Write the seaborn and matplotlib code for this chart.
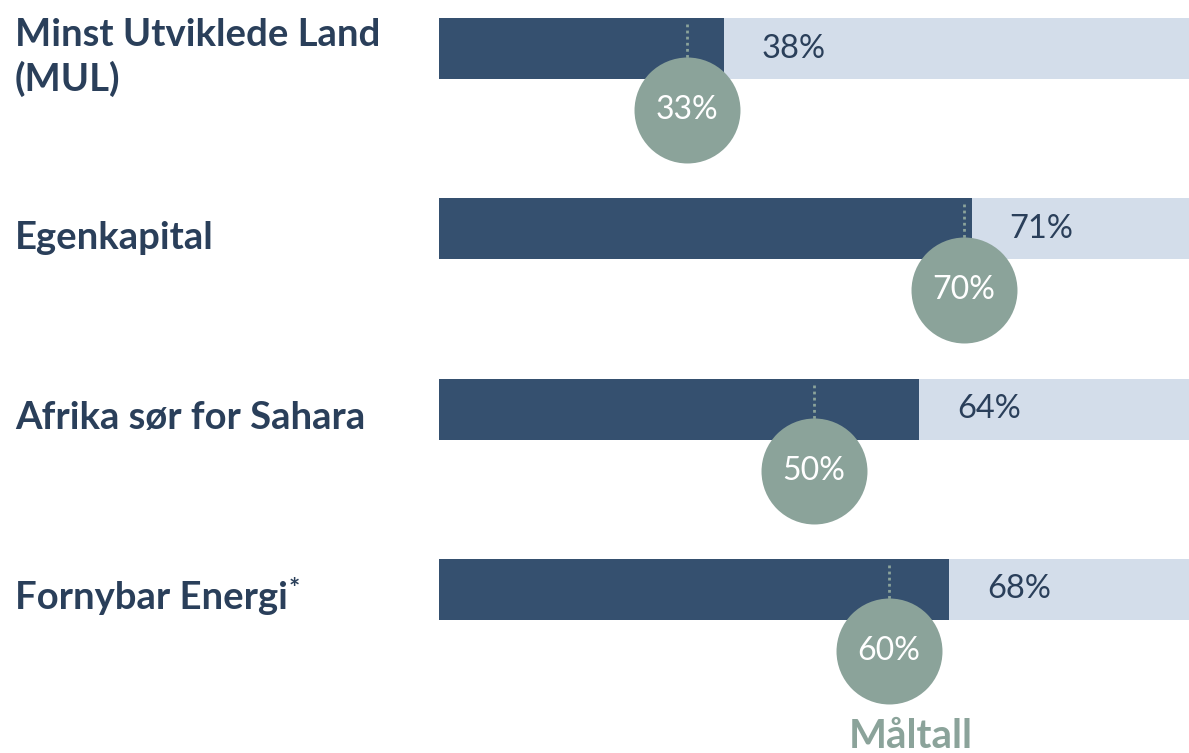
import matplotlib
matplotlib.use("Agg")
import pandas as pd
import matplotlib.pyplot as plt
import seaborn as sns

sns.set_theme(style="white")
plt.rcParams["font.family"] = ["Lato", "DejaVu Sans"]

# ---------- data ----------
categories = ["Minst Utviklede Land\n(MUL)", "Egenkapital", "Afrika sør for Sahara", "Fornybar Energi"]
actual = [38, 71, 64, 68]
target = [33, 70, 50, 60]
full_scale = [100, 100, 100, 100]

NAVY = "#35506F"
LIGHT = "#D3DDEA"
SAGE = "#8BA39A"
TEXT = "#2A3F5A"

df = pd.DataFrame({"cat": categories, "actual": actual, "target": target, "full": full_scale})

fig = plt.figure(figsize=(11.89, 7.53), dpi=100)
ax = fig.add_axes([439 / 1189, 0, 750 / 1189, 1])

BAR_H = 0.338
sns.barplot(data=df, x="full", y="cat", orient="h", color=LIGHT, width=BAR_H,
            saturation=1, linewidth=0, ax=ax)
sns.barplot(data=df, x="actual", y="cat", orient="h", color=NAVY, width=BAR_H,
            saturation=1, linewidth=0, ax=ax)

ax.set_xlim(0, 100)
ax.set_ylim(3.907, -0.269)
ax.axis("off")

CIRCLE_DY = 0.341
for i, (a, t) in enumerate(zip(actual, target)):
    # value label in the light part of the bar
    ax.annotate(f"{a}%", xy=(a, i), xytext=(38, 0), textcoords="offset pixels",
                ha="left", va="center", fontsize=23.5, color=TEXT)
    # dotted marker line
    ax.vlines(t, i - 0.135, i + CIRCLE_DY, colors=SAGE, linestyles=(0, (1, 1.2)),
              linewidth=2, zorder=3)
    # target circle
    ax.scatter([t], [i + CIRCLE_DY], s=5822, color=SAGE, zorder=4, clip_on=False,
               linewidths=0)
    ax.text(t, i + CIRCLE_DY, f"{t}%", ha="center", va="center", fontsize=23,
            color="white", zorder=5)

# category labels on the left
for i, cat in enumerate(categories):
    lbl = fig.text(15 / 1189, 1 - (48.5 + 180.3 * i + 9) / 753, cat, ha="left", va="center",
                   fontsize=27.5, fontweight="bold", color=TEXT, linespacing=1.3)
    if cat == "Fornybar Energi":
        ax.annotate("*", xy=(1, 1), xycoords=lbl, xytext=(1, 4), textcoords="offset pixels",
                    ha="left", va="top", fontsize=19, fontweight="bold", color=TEXT)

fig.text(911 / 1189, 1 - 748 / 753, "Måltall", ha="center", va="baseline",
         fontsize=29, fontweight="bold", color=SAGE)

plt.savefig("out.png", dpi=100)
plt.close()
